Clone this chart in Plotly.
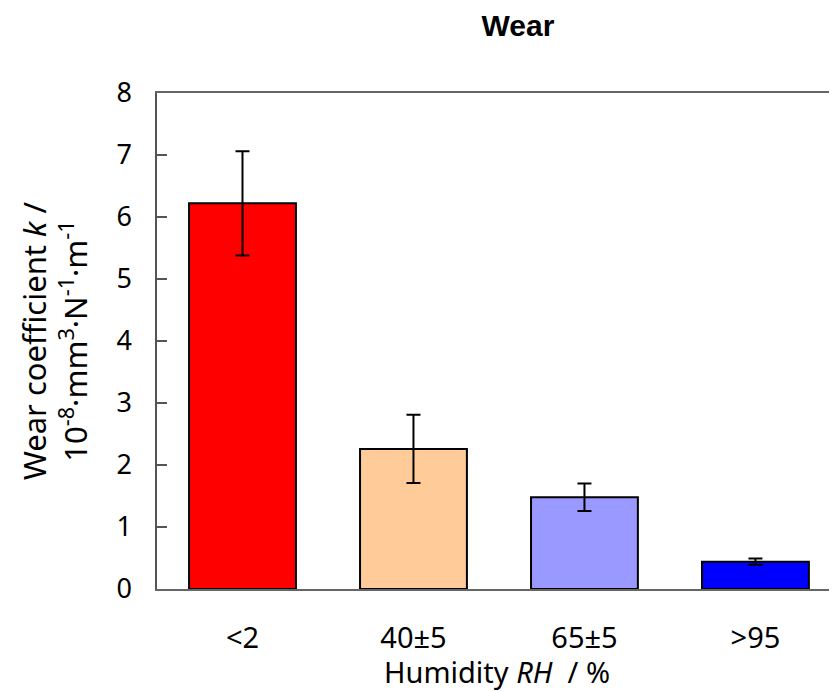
import plotly.graph_objects as go

categories = ["&lt;2", "40±5", "65±5", "&gt;95"]
wear_k = [6.22, 2.26, 1.48, 0.44]
wear_err = [0.84, 0.55, 0.22, 0.05]
bar_colors = ["#FF0000", "#FFCC99", "#9999FF", "#0000FF"]
y_ticks = [0, 1, 2, 3, 4, 5, 6, 7, 8]

font_main = "Noto Sans, Open Sans, sans-serif"

# page has an 8px body margin, so the figure is sized and offset to compensate
W, H = 829, 683

fig = go.Figure()
fig.add_trace(go.Bar(
    x=categories,
    y=wear_k,
    marker=dict(color=bar_colors, line=dict(color="black", width=2)),
    width=0.625,
    error_y=dict(type="data", array=wear_err, visible=True,
                 color="black", thickness=2, width=7),
))

fig.update_layout(
    width=W, height=H,
    margin=dict(l=149, r=0, t=85, b=102),
    paper_bgcolor="white", plot_bgcolor="white",
    showlegend=False,
    title=dict(text="<b>Wear</b>", x=510/W, xanchor="center", y=1-17.5/H, yanchor="middle",
               font=dict(family="Liberation Sans, Arial, sans-serif", size=30, color="black")),
    font=dict(family=font_main, size=28, color="black"),
)
fig.update_xaxes(
    range=[-0.5, 3.477],
    showline=True, linecolor="#666666", linewidth=1.5, mirror=True,
    showgrid=False, ticks="", ticklabelstandoff=22,
    tickfont=dict(family=font_main, size=29, color="black"),
    title=dict(text="Humidity <i>RH</i>  / %", standoff=1,
               font=dict(family=font_main, size=29, color="black")),
)
fig.update_yaxes(
    range=[0, 8], tickvals=y_ticks,
    showline=True, linecolor="#555555", linewidth=1.5,
    showgrid=False, zeroline=False,
    ticks="inside", ticklen=10, tickwidth=1.5, tickcolor="#555555",
    ticklabelstandoff=18,
    tickfont=dict(family=font_main, size=27, color="black"),
    title=dict(text="Wear coefficient <i>k</i> /<br>10<sup>-8</sup>·mm<sup>3</sup>·N<sup>-1</sup>·m<sup>-1</sup>",
               standoff=20,
               font=dict(family=font_main, size=31, color="black")),
)

fig.write_html("out.html")
